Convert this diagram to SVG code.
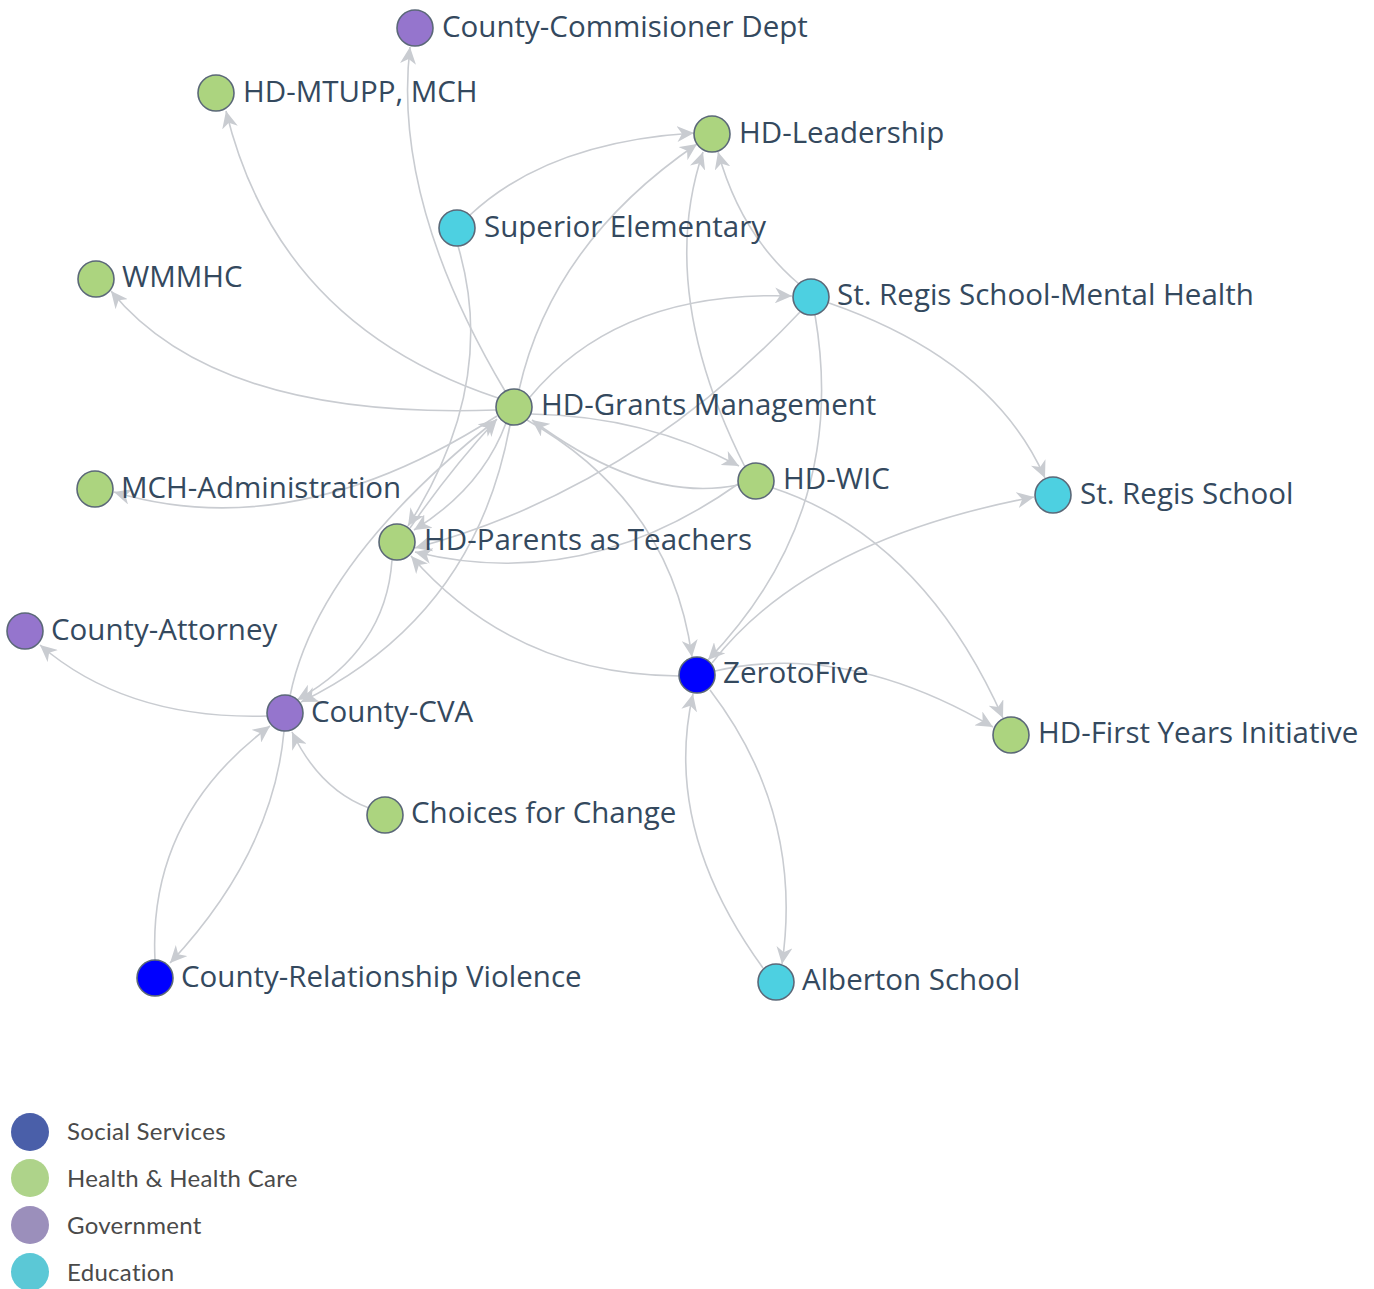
<svg xmlns="http://www.w3.org/2000/svg" width="1374" height="1289" viewBox="0 0 1374 1289">
  <style>
    .edge { fill: none; stroke: #c9ccd1; stroke-width: 1.6; marker-end: url(#arrow); }
    .node { stroke: #5b6878; stroke-width: 1.6; }
    .health { fill: #acd47f; }
    .gov { fill: #9575cd; }
    .edu { fill: #4dd0e1; }
    .social { fill: #0000ff; }
    .label { font-family: "Open Sans", "Noto Sans", sans-serif; font-size: 29.5px; fill: #34495e; }
    .legend-text { font-family: Lato, "Open Sans", sans-serif; font-size: 24px; letter-spacing: 0.3px; fill: #4a4a4a; }
  </style>
  <defs>
    <marker id="arrow" markerUnits="userSpaceOnUse" markerWidth="18" markerHeight="16" refX="17" refY="8" orient="auto">
      <path d="M0,0 L17,8 L0,16 L5,8 z" fill="#c9ccd1"/>
    </marker>
  </defs>
  <rect width="1374" height="1289" fill="#ffffff"/>

  <g id="connectors">
    <path class="edge" d="M505,391 Q392,201 410,47"/>
    <path class="edge" d="M498,398 Q278,325 226,111"/>
    <path class="edge" d="M496,410 Q216,420 111,291"/>
    <path class="edge" d="M519,390 Q552,243 697,144"/>
    <path class="edge" d="M470,215 Q548,142 694,133"/>
    <path class="edge" d="M458,246 Q499,384 408,526"/>
    <path class="edge" d="M530,397 Q619,290 792,296"/>
    <path class="edge" d="M745,467 Q656,291 703,152"/>
    <path class="edge" d="M799,284 Q741,235 718,152"/>
    <path class="edge" d="M531,414 Q645,416 739,466"/>
    <path class="edge" d="M738,485 Q645,504 532,420"/>
    <path class="edge" d="M800,312 Q632,490 415,548"/>
    <path class="edge" d="M815,315 Q849,513 708,660"/>
    <path class="edge" d="M829,303 Q993,360 1045,478"/>
    <path class="edge" d="M497,416 Q295,546 114,492"/>
    <path class="edge" d="M410,528 Q450,470 497,419"/>
    <path class="edge" d="M506,423 Q482,488 414,530"/>
    <path class="edge" d="M510,425 Q475,617 301,702"/>
    <path class="edge" d="M392,560 Q386,650 297,700"/>
    <path class="edge" d="M290,696 Q317,562 496,420"/>
    <path class="edge" d="M738,484 Q584,593 415,552"/>
    <path class="edge" d="M773,488 Q922,537 1003,718"/>
    <path class="edge" d="M527,420 Q671,502 692,657"/>
    <path class="edge" d="M679,676 Q515,675 411,556"/>
    <path class="edge" d="M712,663 Q807,540 1034,497"/>
    <path class="edge" d="M715,671 Q846,641 993,727"/>
    <path class="edge" d="M710,690 Q804,813 782,964"/>
    <path class="edge" d="M763,968 Q662,829 693,694"/>
    <path class="edge" d="M267,716 Q127,720 40,645"/>
    <path class="edge" d="M284,731 Q273,853 170,963"/>
    <path class="edge" d="M155,960 Q148,817 270,726"/>
    <path class="edge" d="M369,808 Q320,790 292,732"/>
  </g>

  <g id="node-county-commisioner-dept">
    <circle class="node gov" cx="415" cy="28" r="18"/>
    <text class="label" x="442" y="37">County-Commisioner Dept</text>
  </g>
  <g id="node-hd-mtupp-mch">
    <circle class="node health" cx="216" cy="93" r="18"/>
    <text class="label" x="243" y="102">HD-MTUPP, MCH</text>
  </g>
  <g id="node-hd-leadership">
    <circle class="node health" cx="712" cy="134" r="18"/>
    <text class="label" x="739" y="143">HD-Leadership</text>
  </g>
  <g id="node-superior-elementary">
    <circle class="node edu" cx="457" cy="228" r="18"/>
    <text class="label" x="484" y="237">Superior Elementary</text>
  </g>
  <g id="node-wmmhc">
    <circle class="node health" cx="96" cy="279" r="18"/>
    <text class="label" x="122" y="287">WMMHC</text>
  </g>
  <g id="node-st-regis-mental-health">
    <circle class="node edu" cx="811" cy="297" r="18"/>
    <text class="label" x="837" y="305">St. Regis School-Mental Health</text>
  </g>
  <g id="node-hd-grants-management">
    <circle class="node health" cx="514" cy="407" r="18"/>
    <text class="label" x="541" y="415">HD-Grants Management</text>
  </g>
  <g id="node-mch-administration">
    <circle class="node health" cx="95" cy="489" r="18"/>
    <text class="label" x="121" y="498">MCH-Administration</text>
  </g>
  <g id="node-hd-wic">
    <circle class="node health" cx="756" cy="481" r="18"/>
    <text class="label" x="783" y="489">HD-WIC</text>
  </g>
  <g id="node-st-regis-school">
    <circle class="node edu" cx="1053" cy="495" r="18"/>
    <text class="label" x="1080" y="504">St. Regis School</text>
  </g>
  <g id="node-hd-parents-as-teachers">
    <circle class="node health" cx="397" cy="542" r="18"/>
    <text class="label" x="424" y="550">HD-Parents as Teachers</text>
  </g>
  <g id="node-county-attorney">
    <circle class="node gov" cx="25" cy="631" r="18"/>
    <text class="label" x="51" y="640">County-Attorney</text>
  </g>
  <g id="node-zerotofive">
    <circle class="node social" cx="697" cy="675" r="18"/>
    <text class="label" x="723" y="683">ZerotoFive</text>
  </g>
  <g id="node-county-cva">
    <circle class="node gov" cx="285" cy="713" r="18"/>
    <text class="label" x="311" y="722">County-CVA</text>
  </g>
  <g id="node-hd-first-years-initiative">
    <circle class="node health" cx="1011" cy="735" r="18"/>
    <text class="label" x="1038" y="743">HD-First Years Initiative</text>
  </g>
  <g id="node-choices-for-change">
    <circle class="node health" cx="385" cy="815" r="18"/>
    <text class="label" x="411" y="823">Choices for Change</text>
  </g>
  <g id="node-county-relationship-violence">
    <circle class="node social" cx="155" cy="978" r="18"/>
    <text class="label" x="181" y="987">County-Relationship Violence</text>
  </g>
  <g id="node-alberton-school">
    <circle class="node edu" cx="776" cy="982" r="18"/>
    <text class="label" x="802" y="990">Alberton School</text>
  </g>

  <g id="legend">
    <circle cx="30" cy="1132" r="19" fill="#4a5fa9"/>
    <text class="legend-text" x="67" y="1140">Social Services</text>
    <circle cx="30" cy="1178" r="19" fill="#aed38a"/>
    <text class="legend-text" x="67" y="1187">Health &amp; Health Care</text>
    <circle cx="30" cy="1225" r="19" fill="#9b8fbb"/>
    <text class="legend-text" x="67" y="1234">Government</text>
    <circle cx="30" cy="1272" r="19" fill="#5bc8d6"/>
    <text class="legend-text" x="67" y="1281">Education</text>
  </g>
</svg>
